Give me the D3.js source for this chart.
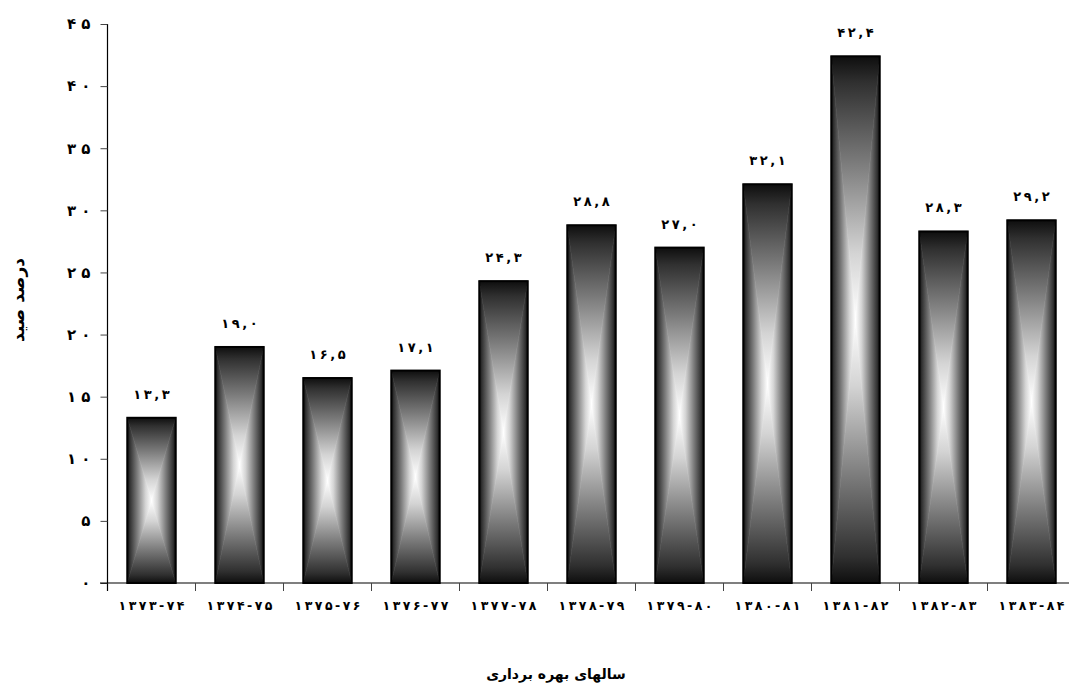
<!DOCTYPE html>
<html>
<head>
<meta charset="utf-8">
<script src="https://cdn.jsdelivr.net/npm/d3@7"></script>
<style>
  html, body { margin: 0; padding: 0; background: #fff; overflow: hidden; }
  svg { display: block; }
  text { font-family: "DejaVu Sans", "Noto Sans", sans-serif; font-weight: bold; fill: #000; }
</style>
</head>
<body>
<script>
// Fishing seasons (Persian calendar) and catch share per season
const seasons = ["۱۳۷۳-۷۴", "۱۳۷۴-۷۵", "۱۳۷۵-۷۶", "۱۳۷۶-۷۷", "۱۳۷۷-۷۸", "۱۳۷۸-۷۹",
                 "۱۳۷۹-۸۰", "۱۳۸۰-۸۱", "۱۳۸۱-۸۲", "۱۳۸۲-۸۳", "۱۳۸۳-۸۴"];
const catchPercent = [13.3, 19.0, 16.5, 17.1, 24.3, 28.8, 27.0, 32.1, 42.4, 28.3, 29.2];
const yTicks = [0, 5, 10, 15, 20, 25, 30, 35, 40, 45];
const yTitle = "درصد صید";
const xTitle = "سالهای بهره برداری";

const W = 1069, H = 685;
const faDigits = "۰۱۲۳۴۵۶۷۸۹";
const toFa = s => String(s).replace(/[0-9]/g, d => faDigits[+d]);
// Arabic-script runs ignore letter-spacing, so spread glyphs with a spacer character
const spread = (s, sp) => Array.from(s).join(sp);
const THIN = "\u2009";
const fmtVal = v => spread(toFa(v.toFixed(1).replace(".", ",")), THIN);

const svg = d3.select("body").append("svg").attr("width", W).attr("height", H);

const x = d3.scaleBand().domain(seasons).range([107.5, 1075.5]).paddingInner(0.45).paddingOuter(0.225);
const y = d3.scaleLinear().domain([0, 45]).range([583, 24]);

// Shaded fill: dark edges fading to a white centre (one gradient per facing direction)
const defs = svg.append("defs");
const stops = [[0, "#0e0e0e"], [0.1, "#303030"], [0.4, "#7a7a7a"], [0.75, "#d4d4d4"], [1, "#ffffff"]];
function grad(id, x1, y1, x2, y2) {
  const g = defs.append("linearGradient").attr("id", id)
    .attr("x1", x1).attr("y1", y1).attr("x2", x2).attr("y2", y2);
  stops.forEach(([o, c]) => g.append("stop").attr("offset", o).attr("stop-color", c));
}
grad("gTop", 0, 0, 0, 1);
grad("gBottom", 0, 1, 0, 0);
grad("gLeft", 0, 0, 1, 0);
grad("gRight", 1, 0, 0, 0);

const bars = svg.append("g").selectAll("g").data(seasons).join("g");
bars.each(function (s, i) {
  const g = d3.select(this);
  const x0 = x(s), x1 = x(s) + x.bandwidth();
  const y0 = y(catchPercent[i]), y1 = y(0);
  const cx = (x0 + x1) / 2, cy = (y0 + y1) / 2;
  const tri = [
    ["gTop",    [[x0, y0], [x1, y0], [cx, cy]]],
    ["gBottom", [[x0, y1], [x1, y1], [cx, cy]]],
    ["gLeft",   [[x0, y0], [x0, y1], [cx, cy]]],
    ["gRight",  [[x1, y0], [x1, y1], [cx, cy]]]
  ];
  tri.forEach(([id, pts]) => {
    g.append("path").attr("d", d3.line()(pts) + "Z")
      .attr("fill", `url(#${id})`).attr("stroke", `url(#${id})`).attr("stroke-width", 0.6);
  });
  g.append("rect").attr("x", x0).attr("y", y0).attr("width", x1 - x0).attr("height", y1 - y0)
    .attr("fill", "none").attr("stroke", "#000").attr("stroke-width", 2);
  g.append("text").attr("x", cx).attr("y", y0 - 19).attr("text-anchor", "middle")
    .attr("direction", "ltr").attr("font-size", 13)
    .text(fmtVal(catchPercent[i]));
});

// Y axis
const yAxis = svg.append("g").attr("transform", "translate(107.5,0)")
  .call(d3.axisLeft(y).tickValues(yTicks).tickSize(7).tickPadding(10)
    .tickFormat(d => spread(toFa(d), " ")));
yAxis.select(".domain").attr("stroke", "#000").attr("stroke-width", 1.2).attr("d", `M0,${y(45)}V${y(0) + 8}`);
yAxis.selectAll(".tick line").attr("stroke", "#444");
yAxis.selectAll(".tick text").attr("font-size", 15).attr("font-family", "DejaVu Sans")
  .attr("font-weight", "bold").attr("direction", "ltr");

// X axis
const xAxis = svg.append("g").attr("transform", `translate(0,${y(0)})`)
  .call(d3.axisBottom(x).tickSize(0).tickPadding(18).tickFormat(d => spread(d, THIN)));
xAxis.select(".domain").attr("stroke", "#000").attr("stroke-width", 1.2).attr("d", `M100,0H${W}`);
xAxis.selectAll(".tick text").attr("font-size", 12.5).attr("font-family", "DejaVu Sans")
  .attr("font-weight", "bold").attr("direction", "ltr");
// separators between seasons
svg.append("g").selectAll("line").data(seasons.slice(1)).join("line")
  .attr("x1", s => x(s) - x.step() * x.paddingInner() / 2)
  .attr("x2", s => x(s) - x.step() * x.paddingInner() / 2)
  .attr("y1", y(0)).attr("y2", y(0) + 8).attr("stroke", "#444");

// Axis titles
svg.append("text").attr("transform", "translate(24,300) rotate(-90)").attr("text-anchor", "middle")
  .attr("font-size", 17).text(yTitle);
svg.append("text").attr("x", 556).attr("y", 679).attr("text-anchor", "middle")
  .attr("font-size", 14).text(xTitle);
</script>
</body>
</html>
